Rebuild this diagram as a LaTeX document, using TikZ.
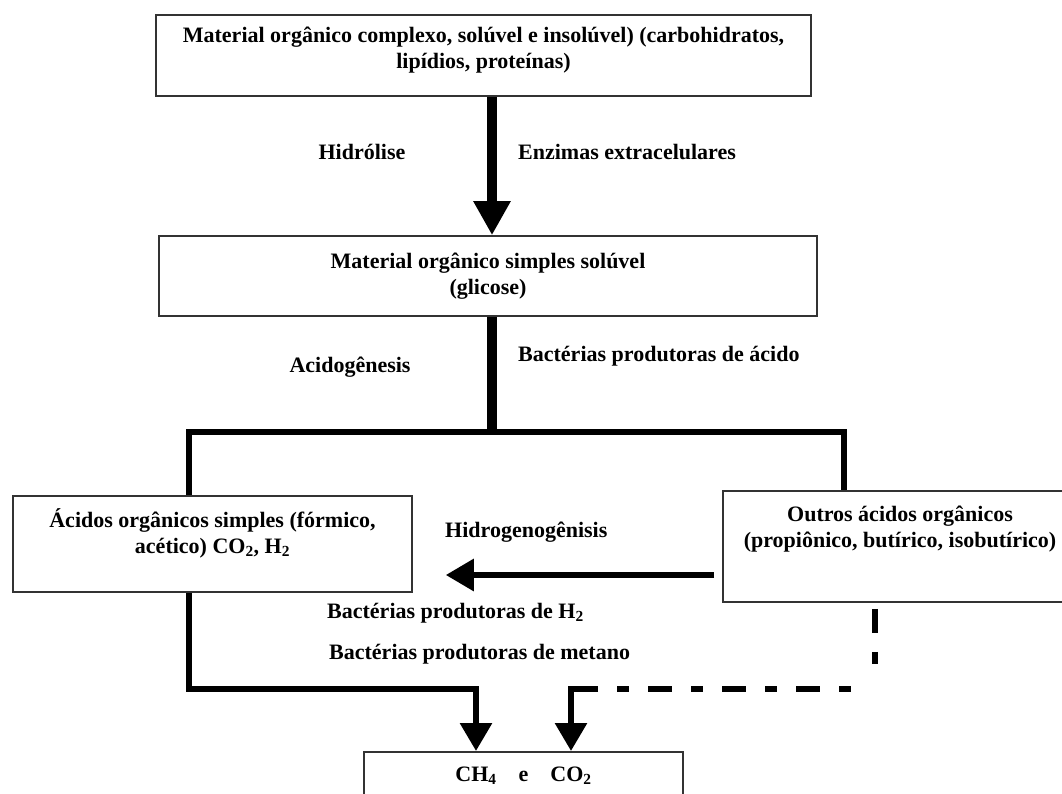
\documentclass[tikz,border=0pt]{standalone}
\usepackage{fontspec}
\setmainfont{Liberation Serif}
\usetikzlibrary{arrows.meta,calc,positioning}
\definecolor{BordaCaixa}{HTML}{333333}
\newcommand{\folga}[1]{\rule[-#1]{0pt}{0pt}}
\tikzset{
  caixa/.style={draw=BordaCaixa, line width=1.6pt, fill=white, align=center, inner sep=4pt, font=\fontsize{22}{26}\selectfont\bfseries},
  rotulo/.style={inner sep=0pt, font=\fontsize{22}{26}\selectfont\bfseries},
  setagrossa/.style={-{Triangle[length=34pt, width=35pt]}, line width=10pt},
  hastegrossa/.style={line width=9.5pt},
  ramo/.style={line width=6pt},
  setaramo/.style={-{Triangle[length=28pt, width=31pt]}, line width=6pt},
  tracejada/.style={line width=6.5pt, dash pattern=on 24pt off 19pt on 12pt off 19pt}
}

\begin{document}
\begin{tikzpicture}[x=1pt, y=1pt]
  \useasboundingbox (0,0) rectangle (1062,-794);
  % caixas
  \node[caixa, minimum width=655, minimum height=81] (complexo) at (483.5,-55.5)
    {Material orgânico complexo, solúvel e insolúvel) (carbohidratos,\\ lipídios, proteínas)\folga{15pt}};
  \node[caixa, minimum width=658, minimum height=80] (simples) at (488,-276)
    {Material orgânico simples solúvel\\ (glicose)};
  \node[caixa, minimum width=399, minimum height=96] (acidos) at (212.5,-544)
    {Ácidos orgânicos simples (fórmico,\\ acético) CO\textsubscript{2}, H\textsubscript{2}\folga{26pt}};
  \node[caixa, minimum width=354, minimum height=111] (outros) at (900,-546.5)
    {Outros ácidos orgânicos\\ (propiônico, butírico, isobutírico)\folga{39pt}};
  \node[caixa, anchor=north, minimum width=319, minimum height=80] (ch4) at (523.5,-751)
    {CH\textsubscript{4}\quad e\quad CO\textsubscript{2}\folga{35pt}};
  % rotulos
  \node[rotulo] (hidrolise) at (362,-152) {Hidrólise};
  \node[rotulo, anchor=west] (enzimas) at (518,-152) {Enzimas extracelulares};
  \node[rotulo] (acidog) at (350,-367) {Acidogênesis};
  \node[rotulo, anchor=west] (bactacido) at (518,-356) {Bactérias produtoras de ácido};
  \node[rotulo, anchor=west] (hidrog) at (445,-532) {Hidrogenogênisis};
  \node[rotulo, anchor=west] (bacth) at (327,-613) {Bactérias produtoras de H\textsubscript{2}};
  \node[rotulo, anchor=west] (bactmet) at (329,-654) {Bactérias produtoras de metano};
  % eixos
  \coordinate (eixo) at (492,0);
  \coordinate (esq) at (189,0);
  \coordinate (dir) at (844,0);
  \coordinate (c1) at (476,0);
  \coordinate (c2) at (571,0);
  \coordinate (tr) at (875,0);
  \coordinate (barra) at (0,-432);
  \coordinate (hy) at (0,-575);
  \coordinate (baixo) at (0,-689);
  % ligacoes
  \draw[setagrossa] (complexo.south -| eixo) -- (simples.north -| eixo);
  \draw[hastegrossa] (simples.south -| eixo) -- (barra -| eixo);
  \draw[ramo] (acidos.north -| esq) |- (barra -| dir) -- (outros.north -| dir);
  \draw[setaramo] ($(outros.west |- hy)+(-8,0)$) -- ($(acidos.east |- hy)+(33,0)$);
  \draw[setaramo] (acidos.south -| esq) |- (baixo -| c1) -- (ch4.north -| c1);
  \draw[tracejada] ($(outros.south -| tr)+(0,-6)$) -- ($(baixo -| tr)+(0,22)$);
  \draw[tracejada, dash phase=24pt] ($(baixo -| c2)+(27,0)$) -- ($(baixo -| tr)+(-24,0)$);
  \draw[setaramo] ($(baixo -| c2)+(27,0)$) -| (ch4.north -| c2);
\end{tikzpicture}
\end{document}
